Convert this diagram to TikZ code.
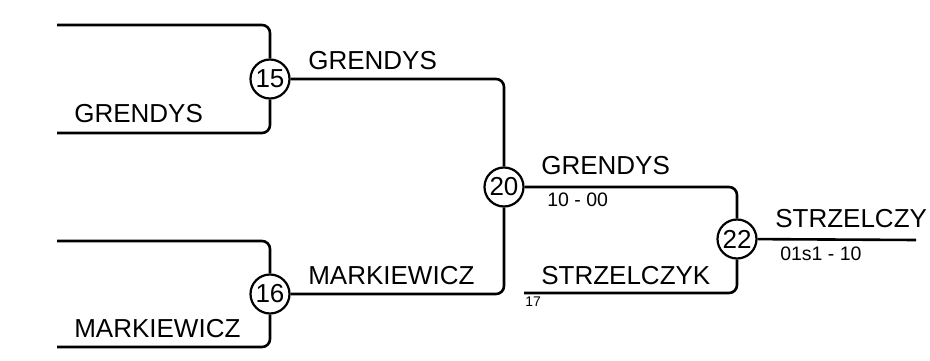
\documentclass[tikz,border=0pt]{standalone}
\usepackage{fontspec}
\setmainfont{Liberation Sans}
\begin{document}
\begin{tikzpicture}[x=1pt,y=-1pt,
  line width=2.6pt,
  num/.style={circle,draw,line width=2.2pt,minimum size=39pt,inner sep=0pt,font=\fontsize{26}{28}\selectfont},
  lbl/.style={anchor=base west,inner sep=0pt,font=\fontsize{26}{30}\selectfont},
  score/.style={anchor=base west,inner sep=0pt,font=\fontsize{19.5}{23}\selectfont},
  tiny/.style={anchor=base west,inner sep=0pt,font=\fontsize{14}{16}\selectfont},
  link/.style={rounded corners=8pt}]
\useasboundingbox (0,0) rectangle (930,361);
% circles
\node[num] (c15) at (270,79) {15};
\node[num] (c16) at (270,294) {16};
\node[num] (c20) at (504,187) {20};
\node[num] (c22) at (737,239) {22};
% free ends
\coordinate (a1) at (57,25);
\coordinate (a2) at (57,133);
\coordinate (a3) at (57,241);
\coordinate (a4) at (57,347);
\coordinate (b17) at (524,293);
\coordinate (e22) at (916,240);
% connectors
\draw[link] (a1) -| (c15);
\draw[link] (a2) -| (c15);
\draw[link] (a3) -| (c16);
\draw[link] (a4) -| (c16);
\draw[link] (c15) -| (c20);
\draw[link] (c16) -| (c20);
\draw[link] (c20) -| (c22);
\draw[link] (b17) -| (c22);
\draw (c22) -- (e22);
% labels
\node[lbl] (l1) at (73,122) {GRENDYS};
\node[lbl] (l2) at (73,337) {MARKIEWICZ};
\node[lbl] (l3) at (307,70) {GRENDYS};
\node[lbl] (l4) at (307,284) {MARKIEWICZ};
\node[lbl] (l5) at (540,175) {GRENDYS};
\node[lbl] (l6) at (540,284) {STRZELCZYK};
\node[lbl] (l7) at (774,227) {STRZELCZY};
\node[score] (s1) at (546,206) {10 - 00};
\node[score] (s2) at (779,260) {01s1 - 10};
\node[tiny] (t17) at (524,306) {17};
\end{tikzpicture}
\end{document}
